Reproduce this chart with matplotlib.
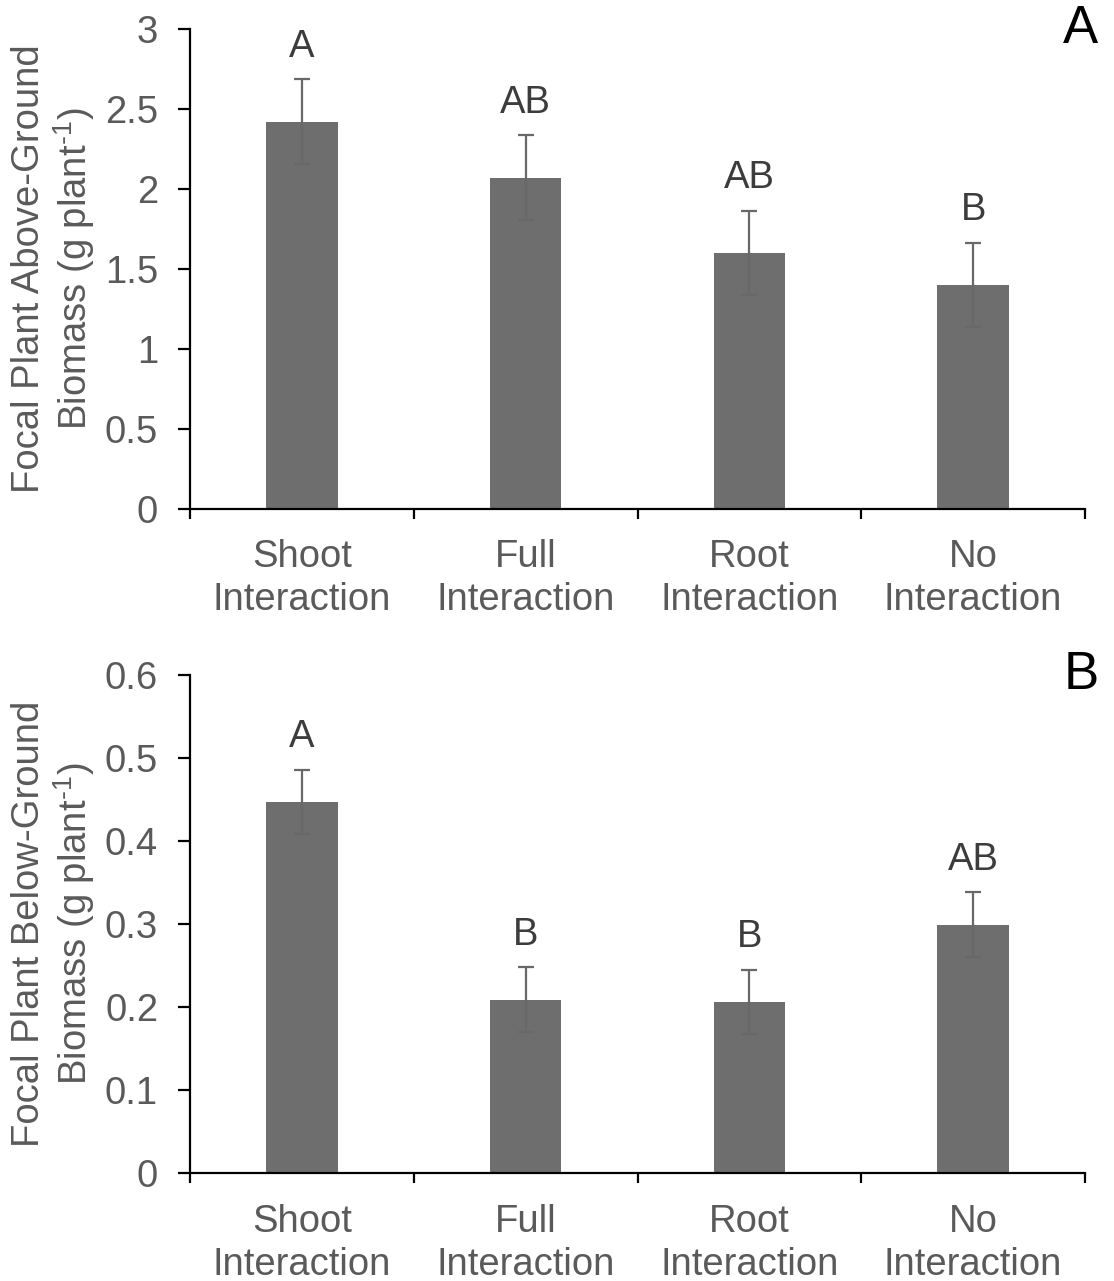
import numpy as np
import matplotlib
matplotlib.use("Agg")
import matplotlib.pyplot as plt

# category names and values
categories = ["Shoot\nInteraction", "Full\nInteraction", "Root\nInteraction", "No\nInteraction"]

above_mean = [2.42, 2.07, 1.60, 1.40]
above_se = [0.265, 0.265, 0.265, 0.265]
above_letters = ["A", "AB", "AB", "B"]

below_mean = [0.447, 0.209, 0.206, 0.299]
below_se = [0.039, 0.039, 0.039, 0.039]
below_letters = ["A", "B", "B", "AB"]

above_label = "Focal Plant Above-Ground\nBiomass (g plant$^{\\text{-1}}$)"
below_label = "Focal Plant Below-Ground\nBiomass (g plant$^{\\text{-1}}$)"

plt.rcParams['font.family'] = ['Liberation Sans', 'DejaVu Sans']
plt.rcParams['mathtext.fontset'] = 'custom'
plt.rcParams['mathtext.rm'] = 'Liberation Sans'
plt.rcParams['mathtext.it'] = 'Liberation Sans'

TXT = "#5a5a5a"
BAR = "#6e6e6e"
FS = 27.5

fig = plt.figure(figsize=(11.14, 12.81), dpi=100)
ax_a = fig.add_axes([0.1706, 0.6027, 0.8034, 0.3747])
ax_b = fig.add_axes([0.1706, 0.0843, 0.8034, 0.3888])


def draw_panel(ax, means, ses, letters, ylim, step, ylabel, panel):
    x = np.arange(len(means))
    ax.bar(x, means, width=0.32, color=BAR, zorder=2)
    ax.errorbar(x, means, yerr=ses, fmt="none", ecolor="#686868",
                elinewidth=1.6, capsize=5.5, capthick=1.6, zorder=3)
    for xi, m, s, lab in zip(x, means, ses, letters):
        ax.annotate(lab, (xi, m + s), xytext=(0, 16), textcoords="offset points",
                    ha="center", va="baseline", fontsize=FS, color="#3c3c3c")

    ax.set_xlim(-0.5, len(means) - 0.5)
    ax.set_ylim(0, ylim)
    ticks = np.arange(0, ylim + step / 2, step)
    ax.set_yticks(ticks)
    ax.set_yticklabels([f"{v:g}" for v in ticks])

    # ticks at category boundaries, labels under the bars
    ax.set_xticks(np.arange(-0.5, len(means), 1.0))
    ax.set_xticklabels([])
    ax.set_xticks(x, minor=True)
    ax.set_xticklabels(categories, minor=True, fontsize=FS, color=TXT, linespacing=1.25)
    ax.tick_params(axis="x", which="major", length=7.5, width=1.6, color="black")
    ax.tick_params(axis="x", which="minor", length=0, pad=22)
    ax.tick_params(axis="y", length=9, width=1.6, labelsize=FS, labelcolor=TXT, pad=14)

    for side in ["top", "right"]:
        ax.spines[side].set_visible(False)
    for side in ["left", "bottom"]:
        ax.spines[side].set_linewidth(1.6)

    ax.text(-0.152, 0.5, ylabel, rotation=90, ha="center", va="center",
            multialignment="center", transform=ax.transAxes, fontsize=FS,
            color=TXT, linespacing=1.12)
    ax.text(1.015, 1.0, panel, transform=ax.transAxes, ha="right", va="center",
            fontsize=38, color="black")


draw_panel(ax_a, above_mean, above_se, above_letters, 3, 0.5, above_label, "A")
draw_panel(ax_b, below_mean, below_se, below_letters, 0.6, 0.1, below_label, "B")

fig.savefig("out.png", dpi=100)
